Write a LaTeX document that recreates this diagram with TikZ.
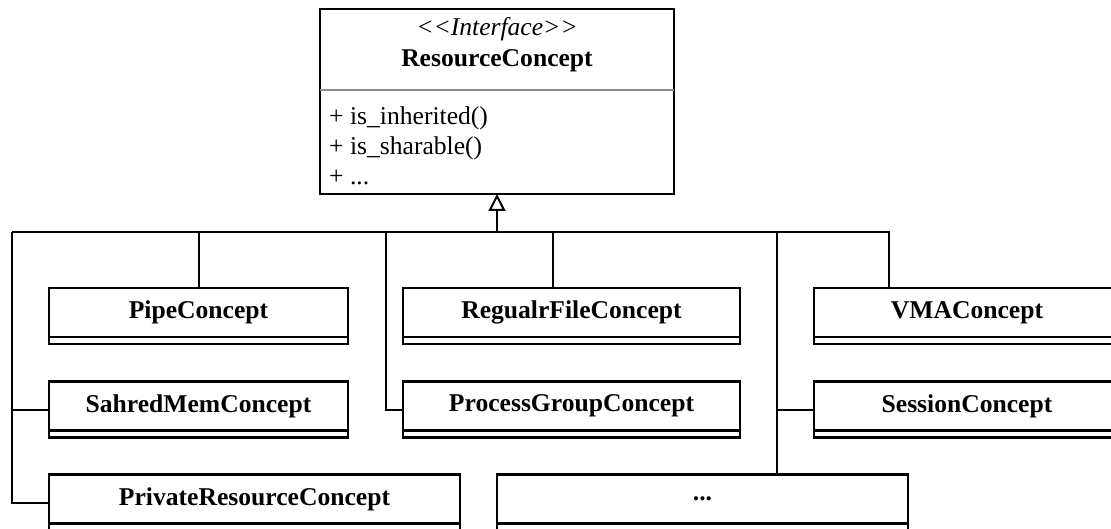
\documentclass[tikz,border=0pt]{standalone}
\usepackage{fontspec}
\setmainfont{Liberation Serif}
\usetikzlibrary{arrows.meta}
\newcommand\dfont{\fontsize{25.6}{30}\selectfont}
\begin{document}
\begin{tikzpicture}[x=1pt,y=-1pt,
  boxline/.style={line width=2.2pt},
  wire/.style={line width=2pt},
  thinwire/.style={line width=1.5pt},
  sepline/.style={line width=1.3pt, black!45},
  classbox/.style={draw, boxline, inner sep=0pt, outer sep=0pt, minimum height=49pt, font=\dfont\bfseries},
  txt/.style={inner sep=0pt, font=\dfont},
  ]
\useasboundingbox (0,0) rectangle (1111,529);
\clip (0,0) rectangle (1111,529);
% interface box
\node[draw, boxline, inner sep=0pt, outer sep=0pt, minimum width=354pt, minimum height=185pt] (iface) at (497,101.5) {};
\draw[sepline] ([yshift=-81pt]iface.north west) -- ([yshift=-81pt]iface.north east);
\node[txt, anchor=base, font=\dfont\itshape] (stereo) at (497,36) {<{}<Interface>{}>};
\node[txt, anchor=base, font=\dfont\bfseries] (iname) at (497,67) {ResourceConcept};
\node[txt, anchor=base west] (m1) at (329,125) {+ is\_inherited()};
\node[txt, anchor=base west] (m2) at (329,155) {+ is\_sharable()};
\node[txt, anchor=base west] (m3) at (329,185) {+ ...};
% class boxes
\node[classbox, minimum width=299pt] (pipe) at (198.5,312.5) {PipeConcept};
\node[classbox, minimum width=299pt] (shared) at (198.5,406) {SahredMemConcept};
\node[classbox, minimum width=411pt] (private) at (254.5,499) {PrivateResourceConcept};
\node[classbox, minimum width=337pt] (regfile) at (571.5,312.5) {RegualrFileConcept};
\node[classbox, minimum width=337pt] (pgroup) at (571.5,406) {ProcessGroupConcept};
\node[classbox, minimum width=411pt] (dots) at (702.5,499) {...};
\node[classbox, minimum width=306pt] (vma) at (967,312.5) {VMAConcept};
\node[classbox, minimum width=306pt] (session) at (967,406) {SessionConcept};
\foreach \n in {pipe,shared,private,regfile,pgroup,dots,vma,session}
  \draw[boxline] (\n.south west) rectangle ([yshift=-7pt]\n.south east);
% connectors
\coordinate (junction) at (497,232);
\coordinate (lA) at (12,232);
\coordinate (lB) at (386,232);
\coordinate (lC) at (777,232);
\draw[wire, {Triangle[open,length=17pt,width=17pt,line width=2pt]}-] (iface.south) -- (junction);
\draw[wire] (lA) -- (lC);
\draw[thinwire] (lC) -| ([xshift=-78pt]vma.north);
\draw[wire] (pipe.north) |- (junction);
\draw[wire] ([xshift=-18.5pt]regfile.north) |- (junction);
\draw[wire] ([yshift=-3.5pt]shared.west) -| (lA);
\draw[wire] ([yshift=-3.5pt]private.west) -| (lA);
\draw[wire] ([yshift=-3.5pt]pgroup.west) -| (lB);
\draw[wire] ([yshift=-3.5pt]session.west) -| (lC);
\draw[wire] ([xshift=74.5pt]dots.north) -- (lC);
\end{tikzpicture}
\end{document}
